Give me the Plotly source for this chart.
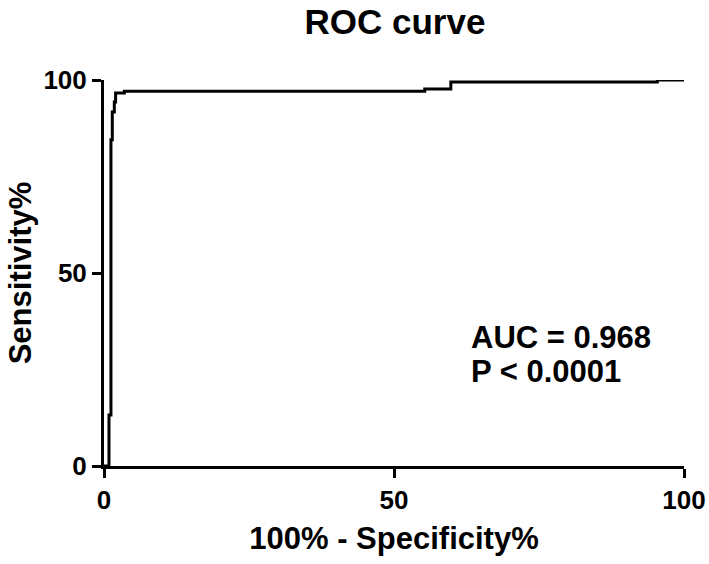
import plotly.graph_objects as go

# ROC curve vertices (100% - Specificity%, Sensitivity%), drawn as steps
fpr = [0, 0.86, 1.2, 1.43, 1.78, 2.0, 3.5, 55.3, 59.8, 95.4, 100]
sens = [0, 13.2, 84.5, 91.7, 94.3, 96.6, 97.1, 97.7, 99.5, 100, 100]

tick_vals = [0, 50, 100]
tick_text = ["0", "50", "100"]

auc_text = "AUC = 0.968"
p_text = "P < 0.0001"

FONT = "Liberation Sans, Arial, sans-serif"

fig = go.Figure()
fig.add_trace(go.Scatter(
    x=fpr, y=sens, mode="lines", line=dict(color="black", width=3, shape="hv"),
    showlegend=False, hoverinfo="skip"))

axis_common = dict(
    range=[0, 100], tickvals=tick_vals, ticktext=tick_text, automargin=False,
    showgrid=False, zeroline=False, showline=True, linecolor="black", linewidth=3,
    ticks="outside", ticklen=9, tickwidth=3, tickcolor="black",
    tickfont=dict(family=FONT, size=26, color="black", weight="bold"),
)

fig.update_layout(
    width=709, height=564,
    margin=dict(l=104, r=25, t=80, b=98),
    paper_bgcolor="white", plot_bgcolor="white",
    title=dict(text="<b>ROC curve</b>", x=0.557, xanchor="center", y=0.961, yanchor="middle",
               font=dict(family=FONT, size=35, color="black")),
    xaxis=dict(**axis_common,
               title=dict(text="<b>100% - Specificity%</b>", standoff=14,
                          font=dict(family=FONT, size=31, color="black"))),
    yaxis=dict(**axis_common,
               title=dict(text="<b>Sensitivity%</b>", standoff=3,
                          font=dict(family=FONT, size=31, color="black"))),
)

fig.add_annotation(text="<b>" + auc_text + "</b>",
                   xref="paper", yref="paper", x=0.629, y=0.332, xanchor="left", yanchor="middle",
                   showarrow=False, font=dict(family=FONT, size=31, color="black"))
fig.add_annotation(text="<b>" + p_text + "</b>",
                   xref="paper", yref="paper", x=0.629, y=0.244, xanchor="left", yanchor="middle",
                   showarrow=False, font=dict(family=FONT, size=31, color="black"))

fig.write_html("out.html", config={"displayModeBar": False},
               post_script="document.body.style.margin='0';document.body.style.overflow='hidden';")
